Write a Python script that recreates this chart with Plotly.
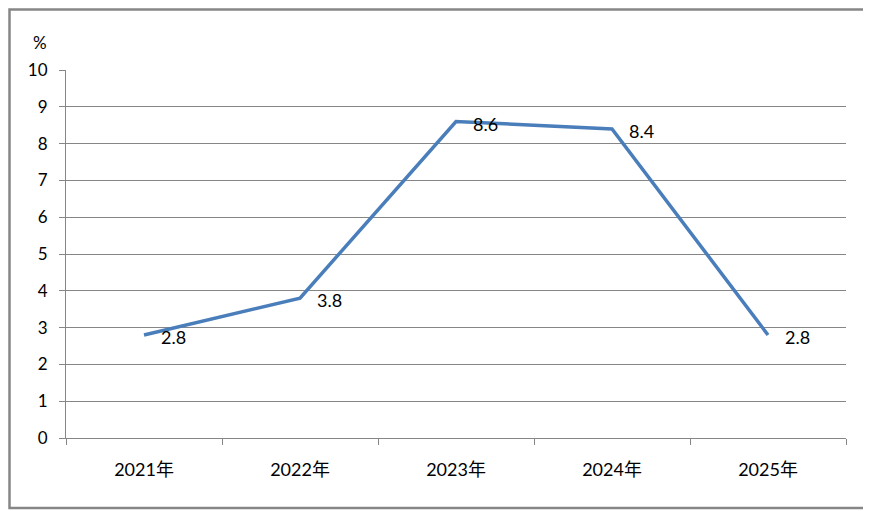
import plotly.graph_objects as go

years = ["2021年", "2022年", "2023年", "2024年", "2025年"]
values = [2.8, 3.8, 8.6, 8.4, 2.8]
labels = ["2.8", "3.8", "8.6", "8.4", "2.8"]

grey = "#868686"
blue = "#4a7ebb"
font = "Lato, 'Noto Sans CJK SC', sans-serif"

# page body adds an 8px offset, so figure is 8px smaller and margins shifted
W, H = 863, 503
L, T, R, B = 58, 62, 25, 73
pw, ph = W - L - R, H - T - B

fig = go.Figure()
fig.add_trace(go.Scatter(
    x=years, y=values, mode="lines",
    line=dict(color=blue, width=3.5),
    hoverinfo="skip", showlegend=False,
))

# data labels sit just right of each point
for yr, v, t in zip(years, values, labels):
    fig.add_annotation(x=yr, y=v, text=t, showarrow=False,
                       xanchor="left", yanchor="middle",
                       xshift=15, yshift=-2,
                       font=dict(size=18, color="#000000", family=font))

fig.add_annotation(xref="paper", yref="paper", x=(41 - L) / pw, y=(T + ph - 34) / ph,
                   text="%", showarrow=False, xanchor="right", yanchor="middle",
                   font=dict(size=17, color="#000000", family=font))

# outer frame
fig.add_shape(type="rect", xref="paper", yref="paper",
              x0=(1.5 - L) / pw, x1=(W - 3 - L) / pw,
              y0=(T + ph - (H - 3)) / ph, y1=(T + ph - 1.5) / ph,
              line=dict(color=grey, width=2.5))

fig.update_xaxes(
    type="category", tickson="boundaries", range=[-0.5, 4.5],
    ticks="outside", ticklen=6, tickcolor=grey,
    showline=True, linecolor=grey, linewidth=1,
    showgrid=False, ticklabelstandoff=15, automargin=False,
    tickfont=dict(size=18, color="#000000", family=font),
)
fig.update_yaxes(
    range=[0, 10], dtick=1,
    ticks="outside", ticklen=6, tickcolor=grey,
    showline=True, linecolor=grey, linewidth=1,
    showgrid=True, gridcolor=grey, gridwidth=1,
    zeroline=False, ticklabelstandoff=8, automargin=False,
    tickfont=dict(size=17, color="#000000", family=font),
)
fig.update_layout(
    width=W, height=H,
    margin=dict(l=L, r=R, t=T, b=B),
    plot_bgcolor="white", paper_bgcolor="white",
)

fig.write_html("out.html")
